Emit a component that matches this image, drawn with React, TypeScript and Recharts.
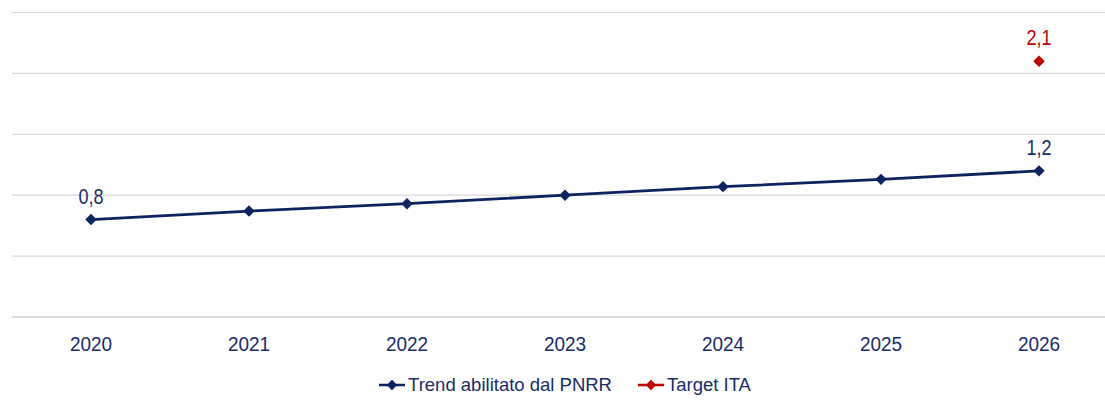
import React from 'react';
import { LineChart, Line, XAxis, YAxis, CartesianGrid, Legend } from 'recharts';

const categories = ['2020', '2021', '2022', '2023', '2024', '2025', '2026'];
const trendValues = [0.8, 0.87, 0.93, 1.0, 1.07, 1.13, 1.2];
const targetValues: (number | null)[] = [null, null, null, null, null, null, 2.1];
const yTicks = [0, 0.5, 1, 1.5, 2, 2.5];
const trendLabelIndexes = [0, 6];
const seriesNames = { trend: 'Trend abilitato dal PNRR', target: 'Target ITA' };
const seriesOrder = [seriesNames.trend, seriesNames.target];

const data = categories.map((year, i) => ({
  year,
  trend: trendValues[i],
  target: targetValues[i],
}));

const NAVY = '#0d2260';
const TEXT = '#182c6b';
const RED = '#c00000';
const GRID = '#d9d9d9';
const FONT = '"Liberation Sans", Arial, sans-serif';

const fmt = (v: number) => v.toFixed(1).replace('.', ',');

const makeDiamond = (color: string) => (props: any) => {
  const { cx, cy, value, index } = props;
  if (value === null || value === undefined || cx == null || cy == null) {
    return <g key={`d-${index}`} />;
  }
  const r = 5.7;
  return (
    <polygon
      key={`d-${index}`}
      points={`${cx},${cy - r} ${cx + r},${cy} ${cx},${cy + r} ${cx - r},${cy}`}
      fill={color}
    />
  );
};

const makeLabel = (color: string, indexes: number[] | null) => (props: any) => {
  const { x, y, value, index } = props;
  if (value === null || value === undefined) return <g key={`l-${index}`} />;
  if (indexes && !indexes.includes(index)) return <g key={`l-${index}`} />;
  return (
    <g key={`l-${index}`} transform={`translate(${x},${y - 23.5}) scale(0.84,1)`}>
      <text
        x={0}
        y={0}
        textAnchor="middle"
        dominantBaseline="central"
        fill={color}
        fontFamily={FONT}
        fontSize={21.5}
      >
        {fmt(value)}
      </text>
    </g>
  );
};

const renderTick = (props: any) => {
  const { x, y, payload } = props;
  return (
    <g transform={`translate(${x},${y}) scale(0.93,1)`}>
      <text x={0} y={0} textAnchor="middle" dominantBaseline="central" fill={TEXT} fontFamily={FONT} fontSize={20.4}>
        {payload.value}
      </text>
    </g>
  );
};

const renderLegend = (props: any) => {
  const payload = [...(props.payload || [])].sort(
    (a: any, b: any) => seriesOrder.indexOf(a.value) - seriesOrder.indexOf(b.value)
  );
  return (
    <div
      style={{
        display: 'flex',
        justifyContent: 'center',
        height: 46,
        boxSizing: 'border-box',
        paddingTop: 9,
      }}
    >
      {payload.map((e: any, i: number) => (
        <div
          key={i}
          style={{ display: 'flex', alignItems: 'center', marginRight: i < payload.length - 1 ? 26 : 0 }}
        >
          <svg width={26} height={12}>
            <line x1={0} y1={6} x2={26} y2={6} stroke={e.color} strokeWidth={2.5} />
            <polygon points="13,0.8 18.2,6 13,11.2 7.8,6" fill={e.color} />
          </svg>
          <span
            style={{
              marginLeft: 3,
              fontFamily: FONT,
              fontSize: 18.5,
              color: TEXT,
              lineHeight: '22px',
            }}
          >
            {e.value}
          </span>
        </div>
      ))}
    </div>
  );
};

export default function App() {
  return (
    <div
      style={{
        position: 'fixed',
        left: 0,
        top: 0,
        width: 1105,
        height: 403,
        overflow: 'hidden',
        background: '#ffffff',
      }}
    >
      <LineChart
        width={1118}
        height={403}
        data={data}
        margin={{ top: 12.5, right: 0, left: 12, bottom: 0 }}
      >
        <CartesianGrid horizontal vertical={false} stroke={GRID} strokeWidth={1.2} />
        <XAxis
          dataKey="year"
          padding={{ left: 79, right: 79 }}
          axisLine={{ stroke: GRID, strokeWidth: 1.5 }}
          tickLine={false}
          tickMargin={21}
          height={40}
          interval={0}
          tick={renderTick}
        />
        <YAxis hide domain={[0, 2.5]} ticks={yTicks} />
        <Legend verticalAlign="bottom" content={renderLegend} />
        <Line
          name={seriesNames.trend}
          dataKey="trend"
          stroke={NAVY}
          strokeWidth={2.8}
          dot={makeDiamond(NAVY)}
          activeDot={false}
          label={makeLabel(TEXT, trendLabelIndexes)}
          isAnimationActive={false}
        />
        <Line
          name={seriesNames.target}
          dataKey="target"
          stroke={RED}
          strokeWidth={2.8}
          dot={makeDiamond(RED)}
          activeDot={false}
          label={makeLabel(RED, null)}
          connectNulls={false}
          isAnimationActive={false}
        />
      </LineChart>
    </div>
  );
}
